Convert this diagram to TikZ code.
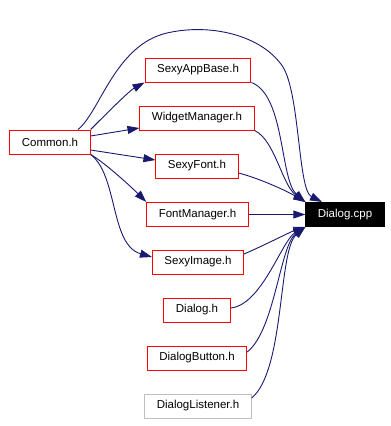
\documentclass[tikz,border=0pt]{standalone}
\usepackage{fontspec}
\setmainfont{Liberation Sans}
\usetikzlibrary{arrows.meta}
\begin{document}
\begin{tikzpicture}[x=1pt, y=-1pt,
    fichier/.style={draw=red, line width=1pt, minimum height=24pt, inner xsep=12pt, inner ysep=0pt,
        font=\fontsize{11.5}{13}\selectfont},
    lien/.style={draw=colorLien, line width=0.9pt, -{Triangle[length=12pt,width=8pt]}}]
    % Couleurs
    \definecolor{colorLien}{RGB}{25,25,112}
    \definecolor{colorGris}{RGB}{191,191,191}

    % Cadre
    \useasboundingbox (0,0) rectangle (391,426);

    % Fichiers inclus
    \node[fichier] (common) at (50,142) {Common.h};
    \node[fichier] (appbase) at (198,70) {SexyAppBase.h};
    \node[fichier] (widgetmgr) at (197,118) {WidgetManager.h};
    \node[fichier] (sexyfont) at (197,166) {SexyFont.h};
    \node[fichier] (fontmgr) at (197.5,214.5) {FontManager.h};
    \node[fichier] (sexyimage) at (198,262) {SexyImage.h};
    \node[fichier] (dialogh) at (197,310) {Dialog.h};
    \node[fichier] (dialogbtn) at (197,358) {DialogButton.h};
    \node[fichier, draw=colorGris] (listener) at (198,406) {DialogListener.h};

    % Fichier source
    \node[fichier, draw=black, fill=black, text=white] (dialogcpp) at (345,214.5) {Dialog.cpp};

    % Liens depuis Common.h
    \draw[lien] (common.north east) .. controls +(15,-15) and +(-15,8) .. (appbase.south west);
    \draw[lien] ([yshift=6pt]common.east) -- ([yshift=-10pt]widgetmgr.west);
    \draw[lien] ([yshift=-8pt]common.east) -- ([yshift=6pt]sexyfont.west);
    \draw[lien] (common.south east) .. controls +(14,8) and +(-15,-15) .. (fontmgr.north west);
    \draw[lien] (common.south east) .. controls (118,175) and (110,245) .. ([yshift=5pt]sexyimage.west);
    \draw[lien] ([xshift=28pt]common.north) .. controls (100,112) and (115,45) .. (167,33)
        .. controls (210,23) and (262,35) .. (283,67)
        .. controls (300,95) and (298,190) .. ([xshift=-23pt]dialogcpp.north);

    % Liens vers Dialog.cpp
    \draw[lien] (appbase.south east) .. controls (285,95) and (280,180) .. (dialogcpp.north west);
    \draw[lien] (widgetmgr.south east) .. controls (275,140) and (282,185) .. (dialogcpp.north west);
    \draw[lien] ([yshift=-7pt]sexyfont.east) .. controls (258,178) and (285,190) .. (dialogcpp.north west);
    \draw[lien] (fontmgr.east) -- (dialogcpp.west);
    \draw[lien] ([yshift=8pt]sexyimage.east) .. controls (265,245) and (290,232) .. (dialogcpp.south west);
    \draw[lien] ([yshift=2pt]dialogh.east) .. controls (262,305) and (282,240) .. (dialogcpp.south west);
    \draw[lien] ([yshift=6pt]dialogbtn.east) .. controls (275,330) and (280,245) .. (dialogcpp.south west);
    \draw[lien] ([yshift=8pt]listener.east) .. controls (285,370) and (278,250) .. (dialogcpp.south west);
\end{tikzpicture}
\end{document}
